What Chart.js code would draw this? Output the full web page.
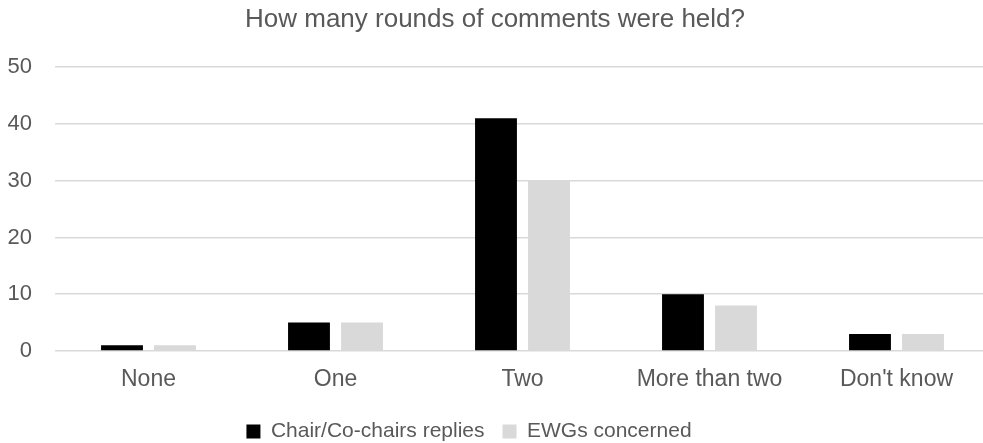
<!DOCTYPE html>
<html>
<head>
<meta charset="utf-8">
<title>How many rounds of comments were held?</title>
<script src="https://cdn.jsdelivr.net/npm/chart.js@4.4.1/dist/chart.umd.min.js"></script>
<style>
  html, body { margin: 0; padding: 0; background: #fff; overflow: hidden; }
  #wrap { width: 992px; height: 443px; }
</style>
</head>
<body>
<div id="wrap"><canvas id="rounds-chart" width="992" height="443"></canvas></div>
<script>
  // categories and answers
  const categories = ['None', 'One', 'Two', 'More than two', "Don't know"];
  const chairReplies = [1, 5, 41, 10, 3];
  const ewgsConcerned = [1, 5, 30, 8, 3];
  const yTicks = [0, 10, 20, 30, 40, 50];

  const textColor = '#595959';
  const fontFamily = '"Liberation Sans", Arial, Helvetica, sans-serif';

  // move the legend box a little left and up once layout is done
  const legendShift = {
    id: 'legendShift',
    afterLayout(chart) {
      const lg = chart.legend;
      if (!lg) return;
      lg.left -= 26;
      lg.right -= 26;
      lg.top -= 5;
      lg.bottom -= 5;
    }
  };

  function loadChart() {
    const ctx = document.getElementById('rounds-chart').getContext('2d');

    new Chart(ctx, {
      type: 'bar',
      data: {
        labels: categories,
        datasets: [{
          label: 'Chair/Co-chairs replies',
          data: chairReplies,
          backgroundColor: '#000000',
          barPercentage: 0.79,
          categoryPercentage: 0.567
        }, {
          label: 'EWGs concerned',
          data: ewgsConcerned,
          backgroundColor: '#d9d9d9',
          barPercentage: 0.79,
          categoryPercentage: 0.567
        }]
      },
      options: {
        responsive: false,
        animation: false,
        layout: { padding: { top: 0, right: 2, bottom: -14, left: 0 } },
        plugins: {
          title: {
            display: true,
            text: 'How many rounds of comments were held?',
            color: textColor,
            font: { family: fontFamily, size: 26, weight: 'normal' },
            padding: { top: 4, bottom: 32 }
          },
          legend: {
            position: 'bottom',
            labels: {
              color: textColor,
              font: { family: fontFamily, size: 21 },
              boxWidth: 14,
              boxHeight: 14,
              padding: 18
            }
          },
          tooltip: { enabled: false }
        },
        scales: {
          x: {
            grid: { display: false, drawTicks: false },
            border: { display: false },
            ticks: {
              color: textColor,
              font: { family: fontFamily, size: 23, lineHeight: 1.0 },
              padding: 17
            }
          },
          y: {
            min: 0,
            max: 50,
            afterFit(scale) { scale.width = 55; },
            afterBuildTicks(scale) {
              scale.ticks = yTicks.map(v => ({ value: v }));
            },
            grid: { color: '#d9d9d9', lineWidth: 1.5, drawTicks: false },
            border: { display: false },
            ticks: {
              color: textColor,
              font: { family: fontFamily, size: 22 },
              padding: 23
            }
          }
        }
      },
      plugins: [legendShift]
    });
  }

  window.onload = loadChart;
</script>
</body>
</html>
